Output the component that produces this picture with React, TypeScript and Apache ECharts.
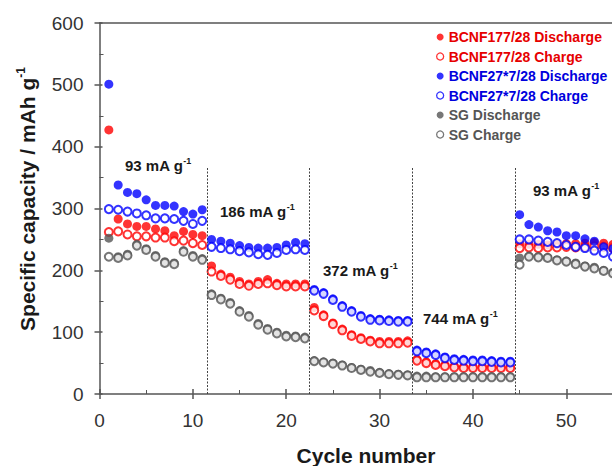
import React, { useEffect, useRef } from "react";
import * as echarts from "echarts";

const cycles: number[] = Array.from({ length: 55 }, (_, i) => i + 1);

const redDischarge = [
  427, 283, 275, 271, 271, 267, 264, 256, 263, 258, 256,
  207, 194, 189, 182, 178, 182, 185, 179, 178, 178, 178,
  140, 128, 115, 105, 96, 91, 87, 85, 85, 85, 86,
  56, 52, 49, 47, 45, 44, 44, 44, 44, 44, 44,
  243, 242, 242, 241, 242, 243, 243, 244, 245, 244, 242,
];
const redCharge = [
  262, 263, 258, 255, 255, 253, 253, 247, 248, 244, 241,
  198, 191, 185, 178, 175, 178, 179, 176, 174, 174, 174,
  135, 126, 113, 103, 94, 89, 85, 82, 82, 82, 83,
  54, 50, 47, 45, 43, 42, 42, 42, 42, 42, 42,
  236, 237, 236, 237, 237, 238, 237, 238, 239, 238, 236,
];
const blueDischarge = [
  501, 338, 326, 324, 314, 305, 305, 304, 295, 291, 298,
  250, 247, 244, 240, 237, 236, 236, 237, 241, 245, 243,
  169, 164, 154, 143, 135, 127, 122, 121, 120, 119, 119,
  71, 68, 65, 60, 57, 56, 55, 55, 54, 53, 53,
  290, 274, 270, 264, 262, 256, 256, 251, 247, 238, 235,
];
const blueCharge = [
  299, 298, 295, 292, 289, 284, 284, 283, 280, 275, 280,
  238, 236, 234, 231, 229, 226, 225, 228, 233, 234, 233,
  167, 162, 152, 141, 133, 125, 120, 119, 118, 117, 117,
  69, 66, 63, 58, 55, 54, 53, 53, 52, 51, 51,
  250, 250, 248, 246, 244, 241, 238, 236, 232, 228, 222,
];
const sgDischarge = [
  252, 222, 226, 242, 235, 224, 214, 212, 232, 224, 219,
  162, 155, 148, 135, 127, 114, 106, 100, 95, 94, 92,
  54, 52, 50, 47, 43, 40, 38, 35, 33, 32, 31,
  29, 29, 28, 28, 28, 28, 28, 28, 28, 28, 28,
  220, 223, 222, 221, 217, 215, 212, 207, 205, 200, 197,
];
const sgCharge = [
  222, 220, 224, 240, 233, 222, 212, 210, 230, 222, 217,
  160, 153, 146, 133, 125, 112, 104, 98, 93, 92, 90,
  53, 51, 49, 46, 42, 39, 36, 34, 32, 31, 30,
  27, 27, 27, 27, 27, 27, 27, 27, 27, 27, 27,
  209, 222, 221, 220, 216, 214, 210, 206, 203, 199, 195,
];

const seriesNames = [
  "BCNF177/28 Discharge",
  "BCNF177/28 Charge",
  "BCNF27*7/28 Discharge",
  "BCNF27*7/28 Charge",
  "SG Discharge",
  "SG Charge",
];
const seriesValues = [redDischarge, redCharge, blueDischarge, blueCharge, sgDischarge, sgCharge];
const seriesColors = ["#ff0000", "#ff0000", "#0000ff", "#0000ff", "#555555", "#555555"];
const legendTextColors = ["#e60000", "#e60000", "#0000dd", "#0000dd", "#555555", "#555555"];
const seriesFilled = [true, false, true, false, true, false];

const dividers = [11.5, 22.5, 33.5, 44.5];
const dividerTop = 367;

const rateLabels = ["93 mA g", "186 mA g", "372 mA g", "744 mA g", "93 mA g"];

const FONT = '"Liberation Sans", Arial, Helvetica, sans-serif';

export default function App() {
  const ref = useRef<HTMLDivElement>(null);
  useEffect(() => {
    if (!ref.current) return;
    const chart = echarts.init(ref.current, undefined, { renderer: "svg" });
    const axisColor = "#555";
    const ratePos = [
      [125, 165],
      [220, 211],
      [323, 270],
      [423, 318],
      [533, 190],
    ];
    const series: any[] = seriesNames.map((name, i) => ({
      name,
      type: "scatter",
      xAxisIndex: 0,
      yAxisIndex: 0,
      symbol: seriesFilled[i] ? "circle" : "emptyCircle",
      symbolSize: seriesFilled[i] ? 9 : 8,
      itemStyle: seriesFilled[i]
        ? { color: seriesColors[i] }
        : { color: seriesColors[i], borderColor: seriesColors[i], borderWidth: 1.5 },
      data: cycles.map((c, k) => [c, seriesValues[i][k]]),
      z: 3 + i,
    }));
    series[0].markLine = {
      silent: true,
      symbol: ["none", "none"],
      label: { show: false },
      lineStyle: { type: [2, 1.5], color: "#444", width: 1 },
      data: dividers.map((d) => [{ coord: [d, 0] }, { coord: [d, dividerTop] }]),
    };
    chart.setOption({
      animation: false,
      grid: { left: 99.5, right: 1, top: 23, bottom: 72 },
      legend: {
        orient: "vertical",
        left: 431,
        top: 25,
        itemWidth: 7,
        itemHeight: 7,
        itemGap: 5.5,
        textStyle: { fontSize: 14, fontWeight: "bold", fontFamily: FONT, lineHeight: 14 },
        data: seriesNames.map((name, i) => ({
          name,
          icon: "circle",
          itemStyle: seriesFilled[i]
            ? { color: seriesColors[i], borderWidth: 0 }
            : { color: "#fff", borderColor: seriesColors[i], borderWidth: 1.3 },
          textStyle: { color: legendTextColors[i] },
        })),
      },
      xAxis: [
        {
          type: "value",
          min: 0,
          max: 55,
          interval: 10,
          position: "bottom",
          axisLine: { lineStyle: { color: axisColor, width: 1.5 } },
          axisTick: { show: true, inside: false, length: 5, lineStyle: { color: axisColor, width: 1.5 } },
          axisLabel: { fontSize: 19, color: "#333", margin: 17, fontFamily: FONT, showMaxLabel: false },
          splitLine: { show: false },
        },
        {
          type: "value",
          min: 0,
          max: 55,
          interval: 10,
          position: "bottom",
          axisLine: { show: false },
          axisTick: { show: true, inside: true, length: 5, lineStyle: { color: axisColor, width: 1.5 } },
          minorTick: { show: true, splitNumber: 2, length: 4, lineStyle: { color: axisColor, width: 1 } },
          axisLabel: { show: false },
          splitLine: { show: false },
        },
        {
          type: "value",
          min: 0,
          max: 55,
          position: "top",
          axisLine: { show: true, lineStyle: { color: axisColor, width: 1.5 } },
          axisTick: { show: false },
          axisLabel: { show: false },
          splitLine: { show: false },
        },
      ],
      yAxis: [
        {
          type: "value",
          min: 0,
          max: 600,
          interval: 100,
          position: "left",
          axisLine: { show: true, lineStyle: { color: axisColor, width: 1.5 } },
          axisTick: { show: true, inside: false, length: 5, lineStyle: { color: axisColor, width: 1.5 } },
          axisLabel: { fontSize: 19, color: "#333", margin: 16, fontFamily: FONT },
          splitLine: { show: false },
        },
        {
          type: "value",
          min: 0,
          max: 600,
          interval: 100,
          position: "left",
          axisLine: { show: false },
          axisTick: { show: true, inside: true, length: 3, lineStyle: { color: axisColor, width: 1.5 } },
          minorTick: { show: true, splitNumber: 2, length: 4, lineStyle: { color: axisColor, width: 1 } },
          axisLabel: { show: false },
          splitLine: { show: false },
        },
      ],
      graphic: [
        ...rateLabels.map((t, i) => ({
          type: "text",
          x: ratePos[i][0],
          y: ratePos[i][1],
          z: 20,
          style: {
            text: `{a|${t}}{b|-1}`,
            verticalAlign: "middle",
            rich: {
              a: { fontSize: 15, fontWeight: "bold", fontFamily: FONT, fill: "#1a1a1a", lineHeight: 17 },
              b: { fontSize: 9, fontWeight: "bold", fontFamily: FONT, fill: "#1a1a1a", verticalAlign: "top", lineHeight: 10 },
            },
          },
        })),
        {
          type: "text",
          x: 27,
          y: 199,
          rotation: Math.PI / 2,
          style: {
            text: "{t|Specific capacity / mAh g}{s|-1}",
            align: "center",
            verticalAlign: "middle",
            rich: {
              t: { fontSize: 21, fontWeight: "bold", fontFamily: FONT, fill: "#1a1a1a", lineHeight: 24 },
              s: { fontSize: 12, fontWeight: "bold", fontFamily: FONT, fill: "#1a1a1a", verticalAlign: "top", lineHeight: 13 },
            },
          },
        },
        {
          type: "text",
          x: 366,
          y: 455,
          style: {
            text: "Cycle number",
            align: "center",
            verticalAlign: "middle",
            fontSize: 21,
            fontWeight: "bold",
            fontFamily: FONT,
            fill: "#1a1a1a",
          },
        },
      ],
      series,
    });
    return () => chart.dispose();
  }, []);
  return (
    <div
      ref={ref}
      style={{ position: "fixed", left: 0, top: 0, width: 614, height: 466, background: "#fff" }}
    />
  );
}
